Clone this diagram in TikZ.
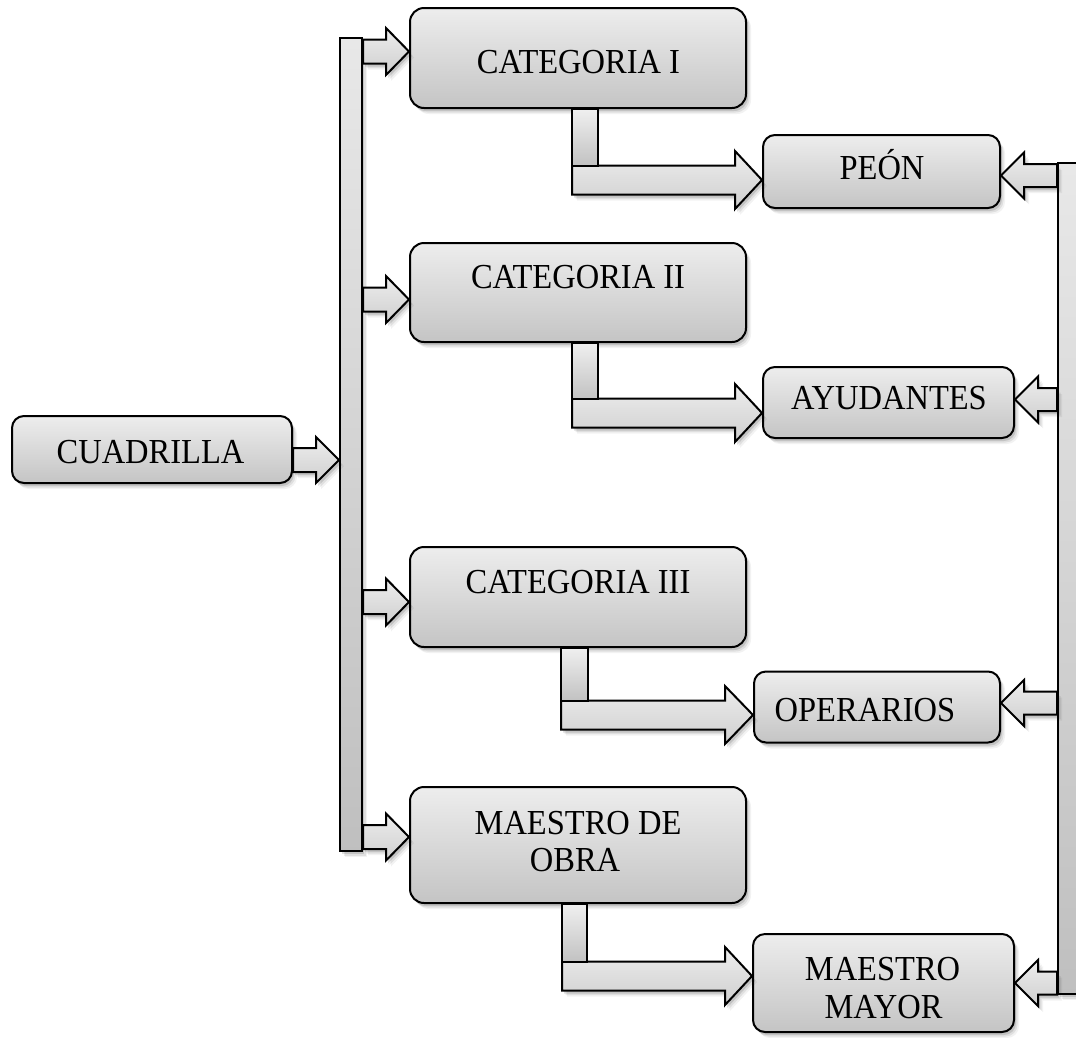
\documentclass[tikz,border=0pt]{standalone}
\usepackage{fontspec}
\setmainfont{Liberation Serif}
\usetikzlibrary{calc,shadows}

\tikzset{
  softshadow/.style={
    drop shadow={shadow xshift=2pt,shadow yshift=-3pt,opacity=.12,fill=black},
    drop shadow={shadow xshift=3.5pt,shadow yshift=-4.5pt,opacity=.08,fill=black},
    drop shadow={shadow xshift=5pt,shadow yshift=-6pt,opacity=.05,fill=black}},
  box/.style={draw=black, line width=2pt, rounded corners=14pt,
    top color=black!7, bottom color=black!23, softshadow, inner sep=0pt},
  smallbox/.style={box, rounded corners=12pt},
  lbl/.style={inner sep=0pt, text height=23.2pt, text depth=0pt,
    font=\fontsize{32.5}{38}\selectfont},
  bar/.style={draw=black, line width=2pt, inner sep=0pt,
    top color=black!9, bottom color=black!25, softshadow},
  arrowfill/.style={draw=black, line width=2pt, top color=black!7,
    bottom color=black!19, line join=miter, softshadow},
  stub/.style={draw=black, line width=2pt, top color=black!6, bottom color=black!24},
}

% slightly tall lettering
\newcommand\tall[1]{\scalebox{1}[1.08]{#1}}

% block arrow: #2 start (x used), #3 tip, #4 shaft half height,
% #5 head half height, #6 head length (negative = pointing left)
\newcommand\blockarrow[6][]{%
  \path[arrowfill,#1] let \p1=#2, \p2=#3 in
    (\x1,{\y2+(#4)}) -- ({\x2-(#6)},{\y2+(#4)}) -- ({\x2-(#6)},{\y2+(#5)})
    -- (\x2,\y2) -- ({\x2-(#6)},{\y2-(#5)}) -- ({\x2-(#6)},{\y2-(#4)})
    -- (\x1,{\y2-(#4)}) -- cycle;}

\begin{document}
\begin{tikzpicture}[x=1pt,y=-1pt]
\fill[white] (0,0) rectangle (1076,1037);
\useasboundingbox (0,0) rectangle (1076,1037);
\clip (0,0) rectangle (1076,1037);

% vertical distribution bars
\node[bar, minimum width=22, minimum height=813] (barL) at (351,444.5) {};
\node[bar, minimum width=22, minimum height=831] (barR) at (1069,578.5) {};

% boxes
\node[smallbox, minimum width=280, minimum height=67] (cu) at (152,449.5) {};
\node[box, minimum width=336, minimum height=100] (c1) at (578,58) {};
\node[box, minimum width=336, minimum height=99]  (c2) at (578,292.5) {};
\node[box, minimum width=336, minimum height=100] (c3) at (578,597) {};
\node[box, minimum width=336, minimum height=116] (c4) at (578,845) {};
\node[smallbox, minimum width=237, minimum height=73] (p1) at (881.5,171.5) {};
\node[smallbox, minimum width=251, minimum height=71] (p2) at (888.5,402.5) {};
\node[smallbox, minimum width=246, minimum height=71] (p3) at (877,707) {};
\node[smallbox, minimum width=261, minimum height=98] (p4) at (883.5,983) {};

% labels
\node[lbl] (cu-t) at ($(cu)+(-1.5,2)$) {\tall{CUADRILLA}};
\node[lbl] (c1-t) at ($(c1)+(0.5,4)$) {\tall{CATEGORIA I}};
\node[lbl] (c2-t) at ($(c2)+(0,-15.5)$) {\tall{CATEGORIA II}};
\node[lbl] (c3-t) at ($(c3)+(0,-15)$) {\tall{CATEGORIA III}};
\node[lbl] (c4-a) at ($(c4)+(0,-22)$) {\tall{MAESTRO DE}};
\node[lbl] (c4-b) at ($(c4)+(-3,15)$) {\tall{OBRA}};
\node[lbl] (p1-t) at ($(p1)+(0.5,-4)$) {\tall{PEÓN}};
\node[lbl] (p2-t) at ($(p2)+(0.5,-5)$) {\tall{AYUDANTES}};
\node[lbl] (p3-t) at ($(p3)+(-12,3)$) {\tall{OPERARIOS}};
\node[lbl] (p4-a) at ($(p4)+(-1,-14)$) {\tall{MAESTRO}};
\node[lbl] (p4-b) at ($(p4)+(0,24)$) {\tall{MAYOR}};

% cuadrilla to left bar
\blockarrow{(cu.east)}{($(barL.west)+(0,15.5)$)}{12pt}{23pt}{23pt}

% left bar to categories
\blockarrow{(barL.east)}{($(c1.west)+(0,-6.5)$)}{12pt}{23.5pt}{23pt}
\blockarrow{(barL.east)}{($(c2.west)+(0,7)$)}{12pt}{23.5pt}{23pt}
\blockarrow{(barL.east)}{($(c3.west)+(0,5)$)}{12pt}{23.5pt}{23pt}
\blockarrow{(barL.east)}{($(c4.west)+(0,-8)$)}{12pt}{23.5pt}{23pt}

% elbows from categories to trades
\coordinate (e1) at (572,165.5);
\blockarrow{(e1)}{($(p1.west)+(0,8.5)$)}{14.5pt}{29pt}{27pt}
\draw[stub] (e1 |- c1.south) rectangle ($(e1)+(26,0)$);

\coordinate (e2) at (572,398.5);
\blockarrow{(e2)}{($(p2.west)+(0,10.5)$)}{14.5pt}{29pt}{27pt}
\draw[stub] (e2 |- c2.south) rectangle ($(e2)+(26,0)$);

\coordinate (e3) at (561,700.5);
\blockarrow{(e3)}{($(p3.west)+(0,8)$)}{14.5pt}{29pt}{28pt}
\draw[stub] (e3 |- c3.south) rectangle ($(e3)+(27,0)$);

\coordinate (e4) at (562,961.5);
\blockarrow{(e4)}{($(p4.west)+(0,-7)$)}{14.5pt}{29pt}{27pt}
\draw[stub] (e4 |- c4.south) rectangle ($(e4)+(25,0)$);

% right bar back to trades
\blockarrow{(barR.west)}{($(p1.east)+(0,4)$)}{11.5pt}{23pt}{-23pt}
\blockarrow{(barR.west)}{($(p2.east)+(0,-3)$)}{11.5pt}{23pt}{-23pt}
\blockarrow{(barR.west)}{($(p3.east)+(0,-4)$)}{11.5pt}{23pt}{-23pt}
\blockarrow{(barR.west)}{($(p4.east)+(0,0)$)}{11.5pt}{23pt}{-23pt}
\end{tikzpicture}
\end{document}
